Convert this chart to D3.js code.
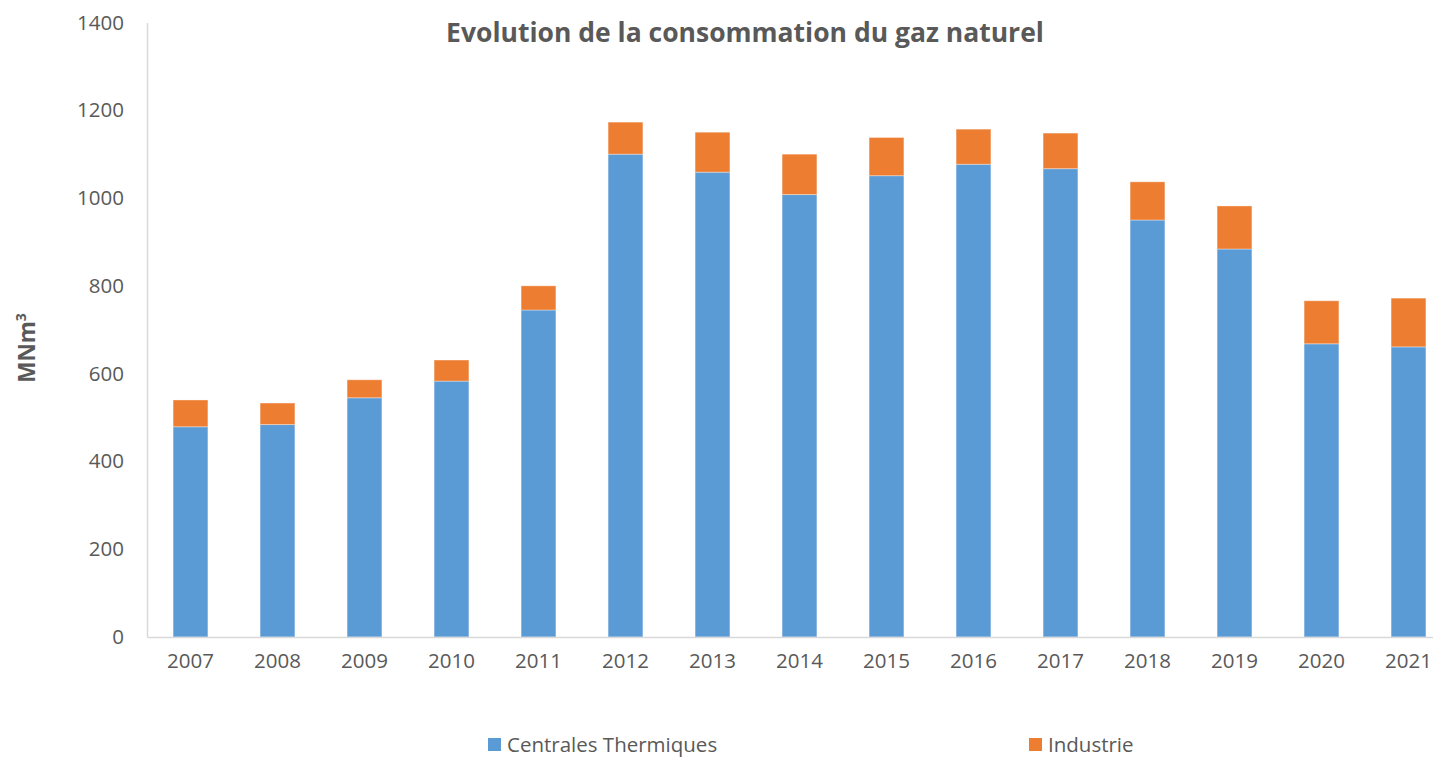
<!DOCTYPE html>
<html>
<head>
<meta charset="utf-8">
<script src="https://cdn.jsdelivr.net/npm/d3@7"></script>
<style>
  body { margin: 0; background: #fff; }
  svg { display: block; font-family: "Open Sans", sans-serif; }
</style>
</head>
<body>
<svg id="chart"></svg>
<script>
var years = ["2007","2008","2009","2010","2011","2012","2013","2014","2015","2016","2017","2018","2019","2020","2021"];
var centrales = [479, 484, 545, 583, 745, 1100, 1059, 1008, 1051, 1077, 1067, 950, 884, 668, 661];
var industrie = [61, 49, 41, 48, 55, 73, 91, 92, 87, 80, 81, 87, 98, 98, 111];
var yTicks = [0, 200, 400, 600, 800, 1000, 1200, 1400];
var seriesNames = ["Centrales Thermiques", "Industrie"];
var colors = ["#5B9BD5", "#ED7D31"];

var width = 1433, height = 757;
var margin = {top: 22.5, left: 147, bottom: 120};
var plotRight = 1452; // last band runs past the picture edge
var font = '"Open Sans", sans-serif';

var svg = d3.select('#chart')
  .attr('width', width)
  .attr('height', height);

var rows = years.map(function(y, i) {
  return {year: y, centrales: centrales[i], industrie: industrie[i]};
});

var stack = d3.stack().keys(["centrales", "industrie"]);
var layers = stack(rows);

var xScale = d3.scaleBand().domain(years)
  .range([margin.left, plotRight])
  .paddingInner(0.6).paddingOuter(0.3);
var yScale = d3.scaleLinear().domain([0, 1400])
  .range([637, margin.top]);

// bars
svg.append('g').selectAll('g')
  .data(layers).enter()
  .append('g')
  .attr('fill', function(d, i) { return colors[i]; })
  .selectAll('rect')
  .data(function(d) { return d; }).enter()
  .append('rect')
  .attr('x', function(d) { return xScale(d.data.year); })
  .attr('width', xScale.bandwidth())
  .attr('y', function(d) { return yScale(d[1]); })
  .attr('height', function(d) { return yScale(d[0]) - yScale(d[1]); })
  .attr('stroke', '#ffffff')
  .attr('stroke-opacity', 0.35)
  .attr('stroke-width', 1);

// y axis
var yAxis = d3.axisLeft(yScale).tickValues(yTicks)
  .tickFormat(d3.format('d')).tickSize(0).tickPadding(23);
var gy = svg.append('g')
  .attr('transform', 'translate(' + margin.left + ',0)')
  .call(yAxis)
  .attr('font-family', font);
gy.select('.domain').attr('stroke', '#d9d9d9').attr('stroke-width', 1.5);
gy.selectAll('text')
  .attr('fill', '#595959')
  .style('font-size', '20.5px');

// x axis
var xAxis = d3.axisBottom(xScale).tickSize(0).tickPadding(16);
var gx = svg.append('g')
  .attr('transform', 'translate(0,637)')
  .call(xAxis)
  .attr('font-family', font);
gx.select('.domain').attr('stroke', '#d9d9d9').attr('stroke-width', 1.5);
gx.selectAll('text')
  .attr('fill', '#595959')
  .style('font-size', '20.5px');

// title
svg.append('text')
  .attr('x', 745)
  .attr('y', 42)
  .attr('text-anchor', 'middle')
  .attr('fill', '#595959')
  .style('font-size', '26.5px')
  .style('font-weight', 'bold')
  .text('Evolution de la consommation du gaz naturel');

// y axis title
svg.append('text')
  .attr('transform', 'translate(35,348) rotate(-90)')
  .attr('text-anchor', 'middle')
  .attr('fill', '#595959')
  .style('font-size', '22.5px')
  .style('font-weight', 'bold')
  .html('MNm<tspan baseline-shift="super" style="font-size:14px">3</tspan>');

// legend
var legendX = [488, 1029];
var legend = svg.append('g').selectAll('g')
  .data(seriesNames).enter()
  .append('g')
  .attr('transform', function(d, i) { return 'translate(' + legendX[i] + ',738)'; });
legend.append('rect')
  .attr('width', 13)
  .attr('height', 13)
  .attr('fill', function(d, i) { return colors[i]; });
legend.append('text')
  .attr('x', 19)
  .attr('y', 14)
  .attr('fill', '#595959')
  .style('font-size', '20.5px')
  .text(function(d) { return d; });
</script>
</body>
</html>
